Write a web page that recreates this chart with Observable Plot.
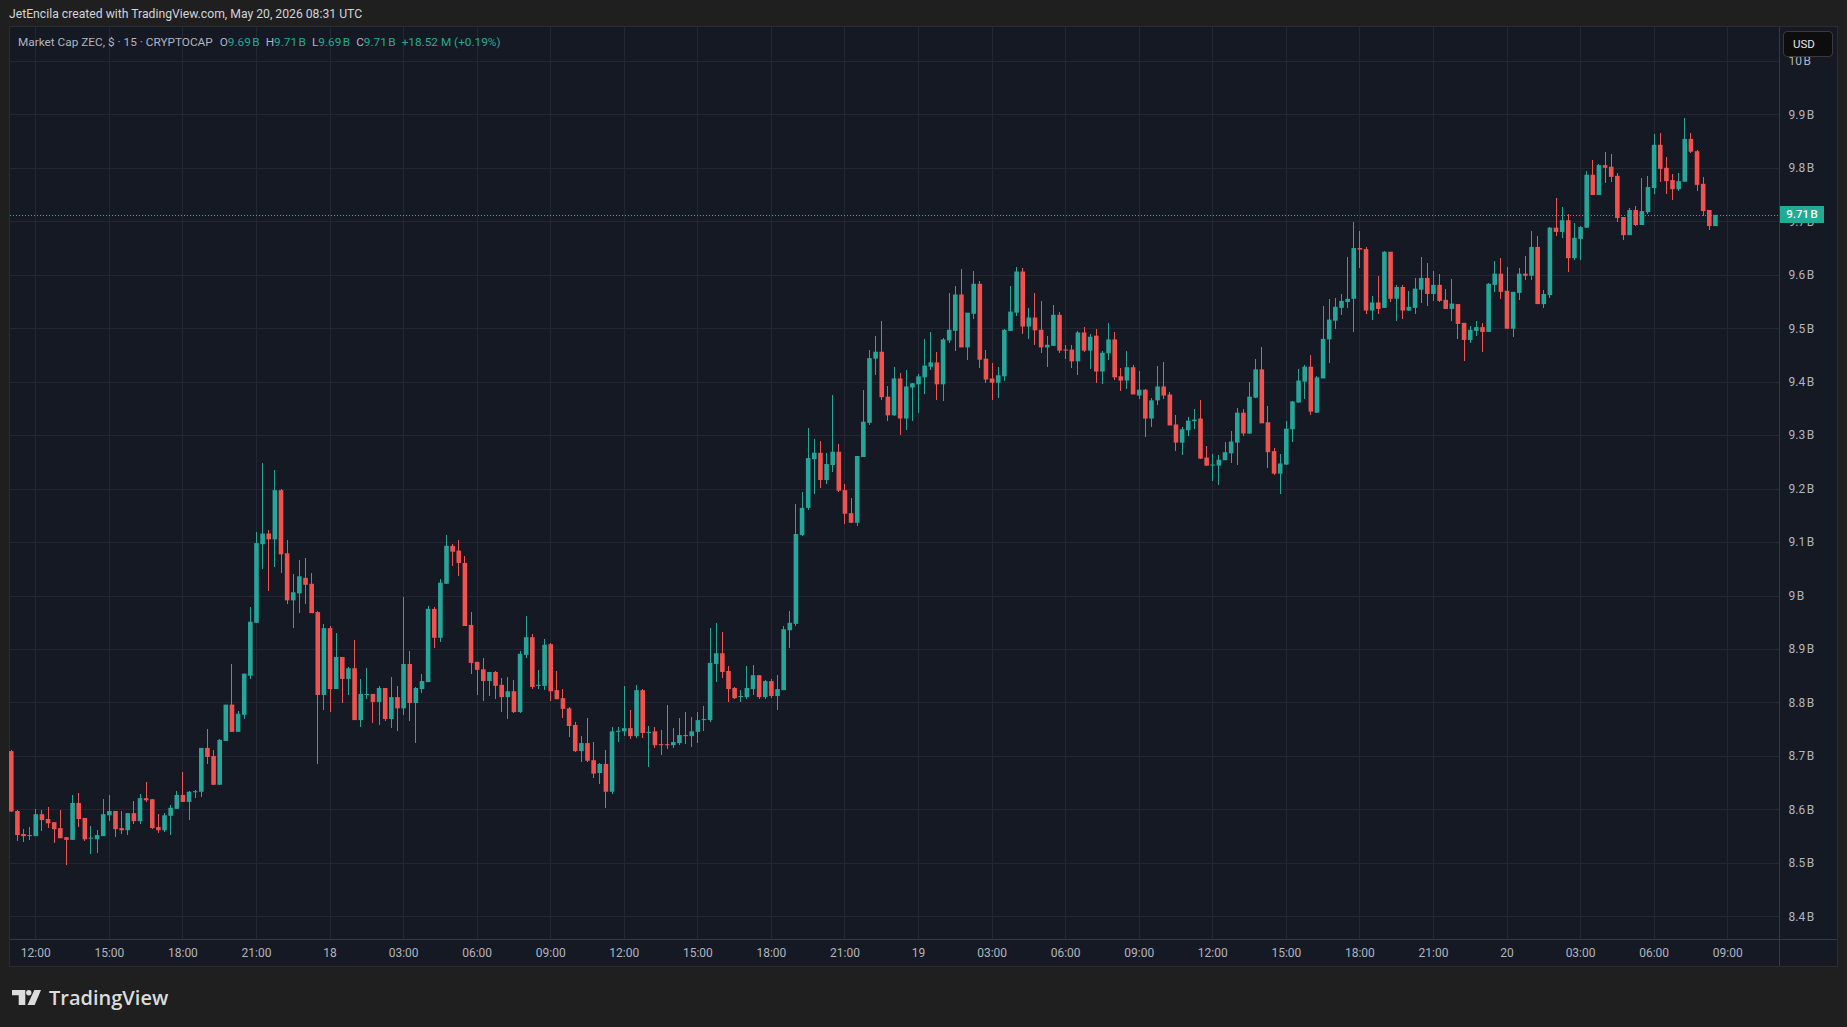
<!DOCTYPE html>
<html>
<head>
<meta charset="utf-8">
<script src="https://cdn.jsdelivr.net/npm/d3@7"></script>
<script src="https://cdn.jsdelivr.net/npm/@observablehq/plot@0.6"></script>
<style>
html, body { margin: 0; padding: 0; background: #1f1f1f; }
#page { position: relative; width: 1847px; height: 1027px; overflow: hidden; font-family: Roboto, "Noto Sans", sans-serif; }
#header { position: absolute; left: 9px; top: 6px; font-size: 12.2px; color: #d1d4dc; line-height: 16px; white-space: nowrap; }
#panel { position: absolute; left: 9px; top: 26px; width: 1827px; height: 939px; border: 1px solid #2c2c2c; background: #151924; }
#chart { position: absolute; left: 0; top: 0; }
#legend { position: absolute; left: 8px; top: 7px; font-size: 11.8px; line-height: 16px; color: #b2b5be; white-space: nowrap; }
#legend .v { color: #22ab94; }
#legend .k { margin-left: 6px; }
#vsep { position: absolute; left: 1769px; top: 0; width: 1px; height: 939px; background: #353945; }
#hsep { position: absolute; left: 0; top: 912px; width: 1827px; height: 1px; background: #353945; }
#usd { position: absolute; left: 1773px; top: 4px; width: 39px; height: 24px; border: 1px solid #3a3a3a; border-radius: 4px; background: #0d0d0d; color: #e6e6e6; font-size: 11.5px; line-height: 24px; padding-left: 9px; box-sizing: content-box; }
#tag { position: absolute; left: 1770px; width: 44px; height: 17px; background: #22ab94; color: #ffffff; font-size: 11.5px; font-weight: 500; line-height: 17px; text-align: center; }
#brand { position: absolute; left: 12px; top: 986px; height: 22px; display: flex; align-items: center; color: #dcdcdc; font-family: "Open Sans", Roboto, sans-serif; font-size: 20px; font-weight: 600; }
#brand svg { margin-right: 8px; }
</style>
</head>
<body>
<div id="page">
  <div id="header">JetEncila created with TradingView.com, May 20, 2026 08:31 UTC</div>
  <div id="panel">
    <div id="chart"></div>
    <div id="vsep"></div>
    <div id="hsep"></div>
    <div id="legend"></div>
    <div id="tag"></div>
    <div id="usd">USD</div>
  </div>
  <div id="brand">
    <svg width="29" height="15" viewBox="0 0 29 15"><path d="M0 0h13.3v15h-6.6v-9.7H0z" fill="#dcdcdc"/><circle cx="16.8" cy="2.7" r="2.7" fill="#dcdcdc"/><path d="M22.3 0h6.7l-6.3 15h-7.2z" fill="#dcdcdc"/></svg>
    <span>TradingView</span>
  </div>
</div>
<script>
// ---- data: ZEC market cap, 15-minute candles (billions USD), first candle 2026-05-17 11:00 UTC ----
const firstCandle = "2026-05-17T11:00:00Z";
const candleMinutes = 15;

const opens = [
8.709,8.597,8.554,8.551,8.550,8.591,8.582,8.576,8.565,8.548,8.543,8.612,8.584,8.545,8.544,8.550,8.589,8.597,8.565,8.561,
8.593,8.578,8.621,8.619,8.567,8.561,8.588,8.601,8.627,8.614,8.633,8.633,8.715,8.700,8.646,8.728,8.796,8.745,8.777,8.850,
8.949,9.096,9.116,9.105,9.197,9.079,8.991,9.004,9.033,9.022,8.969,8.814,8.939,8.825,8.885,8.844,8.864,8.767,8.814,8.816,
8.801,8.827,8.769,8.810,8.789,8.872,8.799,8.825,8.838,8.975,8.921,9.022,9.093,9.084,9.061,8.945,8.876,8.862,8.840,8.857,
8.833,8.810,8.821,8.782,8.889,8.922,8.831,8.831,8.909,8.823,8.808,8.789,8.758,8.709,8.724,8.692,8.668,8.685,8.633,8.745,
8.746,8.752,8.737,8.823,8.743,8.746,8.722,8.722,8.720,8.724,8.739,8.737,8.745,8.767,8.767,8.872,8.892,8.859,8.827,8.810,
8.810,8.825,8.851,8.810,8.840,8.812,8.823,8.935,8.947,9.113,9.164,9.255,9.267,9.216,9.244,9.269,9.197,9.154,9.136,9.259,
9.323,9.443,9.456,9.372,9.337,9.406,9.331,9.389,9.395,9.408,9.428,9.436,9.395,9.477,9.495,9.563,9.464,9.527,9.583,9.443,
9.406,9.398,9.410,9.495,9.529,9.606,9.503,9.520,9.497,9.464,9.467,9.525,9.460,9.460,9.438,9.492,9.458,9.486,9.419,9.453,
9.479,9.410,9.402,9.427,9.374,9.385,9.331,9.365,9.391,9.376,9.320,9.286,9.309,9.326,9.331,9.258,9.243,9.243,9.253,9.266,
9.286,9.342,9.303,9.370,9.423,9.324,9.270,9.228,9.245,9.311,9.361,9.400,9.428,9.342,9.406,9.479,9.514,9.538,9.549,9.555,
9.650,9.648,9.533,9.548,9.538,9.643,9.555,9.577,9.533,9.538,9.572,9.594,9.564,9.581,9.553,9.536,9.545,9.510,9.478,9.495,
9.502,9.493,9.581,9.602,9.570,9.499,9.566,9.602,9.598,9.652,9.545,9.562,9.688,9.680,9.702,9.631,9.667,9.688,9.787,9.749,
9.805,9.802,9.785,9.708,9.674,9.721,9.693,9.717,9.762,9.843,9.800,9.777,9.760,9.774,9.854,9.831,9.770,9.721,9.691];

const highs = [
8.712,8.599,8.564,8.567,8.601,8.599,8.604,8.576,8.599,8.548,8.627,8.631,8.584,8.569,8.561,8.619,8.627,8.597,8.597,8.593,
8.616,8.629,8.651,8.619,8.591,8.593,8.608,8.634,8.670,8.634,8.636,8.715,8.751,8.711,8.732,8.796,8.871,8.784,8.854,8.979,
9.118,9.248,9.122,9.234,9.199,9.103,9.041,9.066,9.071,9.043,8.971,8.947,8.943,8.930,8.885,8.866,8.917,8.844,8.864,8.816,
8.831,8.827,8.848,8.831,8.997,8.896,8.829,8.853,8.981,8.979,9.031,9.114,9.097,9.103,9.074,8.969,8.876,8.883,8.857,8.859,
8.846,8.848,8.842,8.896,8.962,8.928,8.861,8.919,8.911,8.859,8.825,8.791,8.763,8.737,8.771,8.726,8.687,8.711,8.754,8.754,
8.831,8.786,8.833,8.825,8.756,8.754,8.748,8.795,8.752,8.771,8.782,8.773,8.782,8.793,8.939,8.949,8.932,8.868,8.829,8.823,
8.868,8.870,8.851,8.842,8.844,8.851,8.943,8.971,9.171,9.194,9.313,9.293,9.289,9.267,9.375,9.284,9.209,9.182,9.261,9.385,
9.459,9.486,9.514,9.391,9.428,9.417,9.421,9.397,9.415,9.479,9.492,9.456,9.482,9.565,9.579,9.611,9.529,9.607,9.589,9.460,
9.434,9.427,9.499,9.579,9.615,9.613,9.538,9.566,9.551,9.486,9.544,9.531,9.469,9.468,9.494,9.503,9.490,9.499,9.458,9.509,
9.492,9.425,9.458,9.432,9.419,9.387,9.369,9.430,9.437,9.380,9.337,9.316,9.333,9.348,9.365,9.279,9.264,9.262,9.288,9.307,
9.350,9.348,9.400,9.443,9.464,9.355,9.275,9.264,9.327,9.363,9.423,9.432,9.449,9.411,9.542,9.555,9.557,9.564,9.633,9.699,
9.682,9.652,9.561,9.598,9.645,9.643,9.581,9.581,9.570,9.594,9.633,9.622,9.607,9.602,9.574,9.592,9.545,9.510,9.504,9.514,
9.510,9.585,9.626,9.631,9.615,9.568,9.613,9.635,9.682,9.673,9.572,9.689,9.744,9.727,9.714,9.697,9.691,9.794,9.815,9.807,
9.830,9.826,9.790,9.708,9.725,9.729,9.781,9.785,9.863,9.865,9.820,9.788,9.790,9.893,9.865,9.833,9.783,9.721,9.712];

const lows = [
8.595,8.541,8.539,8.543,8.550,8.559,8.565,8.537,8.546,8.496,8.543,8.567,8.541,8.516,8.518,8.550,8.578,8.548,8.554,8.552,
8.572,8.572,8.614,8.563,8.556,8.557,8.552,8.601,8.614,8.580,8.621,8.623,8.685,8.646,8.646,8.728,8.745,8.745,8.769,8.843,
8.949,9.049,9.009,9.054,9.043,8.985,8.940,8.968,8.984,8.967,8.684,8.786,8.782,8.825,8.799,8.814,8.767,8.754,8.806,8.761,
8.757,8.765,8.752,8.746,8.776,8.765,8.724,8.818,8.838,8.902,8.913,9.022,9.056,9.037,8.943,8.853,8.814,8.803,8.812,8.806,
8.782,8.769,8.780,8.780,8.883,8.825,8.825,8.823,8.802,8.806,8.771,8.735,8.707,8.688,8.689,8.659,8.648,8.603,8.629,8.726,
8.737,8.731,8.733,8.733,8.679,8.715,8.701,8.713,8.715,8.720,8.722,8.716,8.724,8.746,8.763,8.838,8.846,8.801,8.806,8.801,
8.806,8.814,8.806,8.806,8.808,8.786,8.823,8.902,8.943,9.111,9.160,9.190,9.201,9.209,9.231,9.194,9.134,9.136,9.130,9.259,
9.319,9.412,9.365,9.326,9.335,9.300,9.309,9.326,9.341,9.376,9.421,9.365,9.363,9.473,9.458,9.464,9.441,9.518,9.426,9.398,
9.365,9.369,9.402,9.495,9.522,9.490,9.479,9.469,9.453,9.428,9.466,9.453,9.443,9.426,9.413,9.456,9.423,9.397,9.395,9.440,
9.404,9.382,9.387,9.376,9.367,9.296,9.316,9.357,9.367,9.318,9.270,9.262,9.299,9.312,9.256,9.242,9.215,9.206,9.253,9.247,
9.245,9.299,9.303,9.370,9.322,9.238,9.225,9.189,9.245,9.288,9.361,9.367,9.337,9.342,9.406,9.434,9.499,9.525,9.538,9.493,
9.613,9.527,9.516,9.527,9.538,9.549,9.514,9.518,9.533,9.527,9.548,9.542,9.551,9.549,9.536,9.514,9.480,9.439,9.473,9.486,
9.456,9.493,9.568,9.555,9.499,9.484,9.553,9.590,9.590,9.545,9.538,9.557,9.673,9.669,9.605,9.628,9.628,9.688,9.749,9.749,
9.772,9.774,9.699,9.665,9.674,9.691,9.693,9.714,9.751,9.774,9.751,9.740,9.757,9.774,9.828,9.757,9.710,9.684,9.691];

const closes = [
8.596,8.552,8.550,8.552,8.591,8.580,8.574,8.563,8.546,8.543,8.612,8.582,8.544,8.547,8.552,8.591,8.597,8.563,8.561,8.593,
8.578,8.621,8.617,8.565,8.561,8.589,8.603,8.627,8.614,8.633,8.634,8.715,8.698,8.646,8.730,8.796,8.745,8.779,8.854,8.951,
9.098,9.116,9.105,9.197,9.077,8.991,9.006,9.036,9.020,8.967,8.814,8.939,8.825,8.885,8.844,8.864,8.767,8.816,8.816,8.801,
8.827,8.769,8.810,8.789,8.872,8.799,8.827,8.840,8.975,8.921,9.024,9.093,9.082,9.061,8.943,8.874,8.861,8.840,8.857,8.831,
8.810,8.821,8.782,8.891,8.922,8.829,8.833,8.908,8.821,8.806,8.788,8.756,8.709,8.724,8.691,8.667,8.685,8.633,8.746,8.747,
8.752,8.737,8.823,8.743,8.745,8.720,8.720,8.720,8.726,8.739,8.737,8.746,8.767,8.769,8.874,8.892,8.857,8.825,8.808,8.812,
8.827,8.851,8.810,8.840,8.812,8.825,8.937,8.949,9.115,9.164,9.257,9.267,9.216,9.246,9.269,9.196,9.153,9.136,9.261,9.325,
9.444,9.456,9.371,9.337,9.406,9.331,9.391,9.397,9.410,9.430,9.436,9.395,9.479,9.497,9.563,9.464,9.529,9.583,9.441,9.404,
9.398,9.412,9.497,9.531,9.606,9.503,9.520,9.496,9.464,9.469,9.525,9.458,9.458,9.438,9.492,9.458,9.484,9.419,9.454,9.479,
9.408,9.402,9.427,9.376,9.385,9.331,9.365,9.391,9.374,9.318,9.286,9.311,9.327,9.329,9.256,9.243,9.245,9.254,9.268,9.288,
9.342,9.303,9.372,9.423,9.322,9.268,9.228,9.247,9.312,9.363,9.402,9.428,9.344,9.408,9.480,9.516,9.540,9.551,9.555,9.650,
9.647,9.533,9.548,9.536,9.643,9.555,9.577,9.533,9.540,9.574,9.594,9.564,9.581,9.551,9.536,9.546,9.508,9.478,9.497,9.502,
9.493,9.583,9.602,9.568,9.499,9.568,9.602,9.598,9.652,9.545,9.564,9.688,9.680,9.702,9.631,9.669,9.689,9.787,9.749,9.805,
9.800,9.783,9.706,9.674,9.721,9.693,9.719,9.764,9.843,9.798,9.775,9.760,9.775,9.854,9.830,9.768,9.719,9.691,9.712];

// axis ticks and labels
const yTicks = [8.4, 8.5, 8.6, 8.7, 8.8, 8.9, 9.0, 9.1, 9.2, 9.3, 9.4, 9.5, 9.6, 9.7, 9.8, 9.9, 10.0];
const xTickStart = "2026-05-17T12:00:00Z";
const xTickLabels = ["12:00","15:00","18:00","21:00","18","03:00","06:00","09:00","12:00","15:00","18:00","21:00",
                     "19","03:00","06:00","09:00","12:00","15:00","18:00","21:00","20","03:00","06:00","09:00"];
const xDomain = ["2026-05-17T10:58:05Z", "2026-05-20T11:06:47Z"];
const yDomain = [8.3576, 10.0633];
const legendText = {name: "Market Cap ZEC, $ · 15 · CRYPTOCAP", o: "9.69", h: "9.71", l: "9.69", c: "9.71", chg: "+18.52 M (+0.19%)"};

// ---- build ----
const GREEN = "#26a69a", RED = "#ef5350";
const t0 = new Date(firstCandle).getTime();
const candles = opens.map((o, i) => ({
  date: new Date(t0 + i * candleMinutes * 60000),
  open: o, high: highs[i], low: lows[i], close: closes[i]
}));
const colorOf = d => d.close >= d.open ? GREEN : RED;
const minBody = 0.0019;
const bodyTop = d => Math.max(d.open, d.close);
const bodyBottom = d => Math.min(bodyTop(d) - minBody, Math.min(d.open, d.close));

const tickT0 = new Date(xTickStart).getTime();
const step = 3 * 3600 * 1000;
const xTicks = xTickLabels.map((_, i) => new Date(tickT0 + i * step));
const NNBSP = "\u202F";
const fmtY = v => (Math.abs(v - Math.round(v)) < 1e-9 ? String(Math.round(v)) : v.toFixed(1)) + NNBSP + "B";
const fmtX = d => xTickLabels[Math.round((d.getTime() - tickT0) / step)];
const last = candles[candles.length - 1];

const chart = Plot.plot({
  width: 1827,
  height: 939,
  marginTop: 0,
  marginLeft: 0,
  marginRight: 58,
  marginBottom: 27,
  style: { background: "transparent", color: "#b2b5be", fontFamily: "Roboto, 'Noto Sans', sans-serif", fontSize: "12px", overflow: "visible" },
  x: { type: "utc", domain: xDomain.map(s => new Date(s)), label: null },
  y: { domain: yDomain, label: null },
  marks: [
    Plot.ruleY(yTicks, { y: d => d, stroke: "#232733", strokeWidth: 1, shapeRendering: "crispEdges" }),
    Plot.ruleX(xTicks, { x: d => d, stroke: "#232733", strokeWidth: 1, shapeRendering: "crispEdges" }),
    Plot.ruleY([last.close], { y: d => d, stroke: GREEN, strokeWidth: 1, strokeDasharray: "1,2", shapeRendering: "crispEdges" }),
    Plot.ruleX(candles, { x: "date", y1: "low", y2: "high", stroke: colorOf, strokeWidth: 1, shapeRendering: "crispEdges" }),
    Plot.ruleX(candles, { x: "date", y1: bodyBottom, y2: bodyTop, stroke: colorOf, strokeWidth: 4.6 }),
    Plot.axisY(yTicks, { anchor: "right", tickSize: 0, tickPadding: 9, tickFormat: fmtY, fill: "#b2b5be", fontSize: 12, label: null }),
    Plot.axisX(xTicks, { anchor: "bottom", tickSize: 0, tickPadding: 9, tickFormat: fmtX, fill: "#b2b5be", fontSize: 12, label: null })
  ]
});
document.getElementById("chart").appendChild(chart);

// price tag on the axis, placed through the y scale
const yScale = chart.scale("y");
const tag = document.getElementById("tag");
tag.textContent = last.close.toFixed(2) + NNBSP + "B";
tag.style.top = (yScale.apply(last.close) - 8.5) + "px";

// legend
const lg = document.getElementById("legend");
lg.innerHTML =
  `<span>${legendText.name}</span>` +
  `<span class="k" style="margin-left:7px">O</span><span class="v">${legendText.o}${NNBSP}B</span>` +
  `<span class="k">H</span><span class="v">${legendText.h}${NNBSP}B</span>` +
  `<span class="k">L</span><span class="v">${legendText.l}${NNBSP}B</span>` +
  `<span class="k">C</span><span class="v">${legendText.c}${NNBSP}B</span>` +
  `<span class="k v">${legendText.chg}</span>`;
</script>
</body>
</html>
